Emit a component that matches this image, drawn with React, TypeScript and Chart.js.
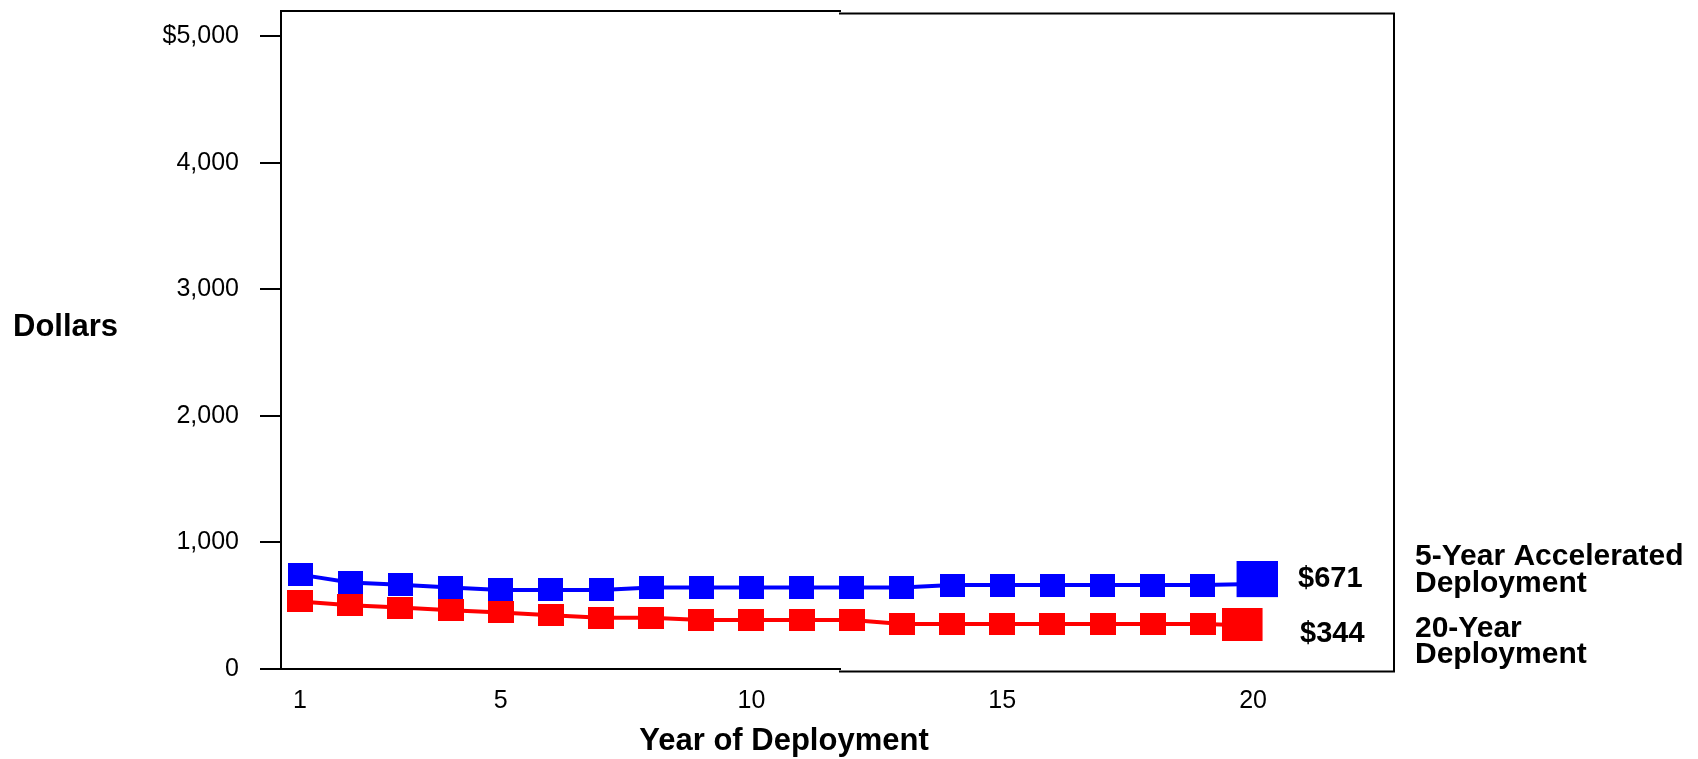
import React, { useEffect, useRef } from "react";
import { Chart, registerables } from "chart.js";

Chart.register(...registerables);

// ---- Data ----
const years = [1, 2, 3, 4, 5, 6, 7, 8, 9, 10, 11, 12, 13, 14, 15, 16, 17, 18, 19, 20];
const acceleratedCosts = [746, 684, 665, 644, 625, 625, 625, 644, 644, 644, 645, 645, 645, 663, 663, 663, 663, 663, 663, 671];
const twentyYearCosts = [534, 504, 486, 465, 447, 425, 405, 405, 387, 387, 387, 387, 355, 355, 355, 355, 355, 355, 355, 344];
const xTickValues = [1, 5, 10, 15, 20];
const yTickValues = [0, 1000, 2000, 3000, 4000, 5000];
const acceleratedLabel = ["5-Year Accelerated", "Deployment"];
const twentyYearLabel = ["20-Year", "Deployment"];
const xTitle = "Year of Deployment";
const yTitle = "Dollars";

const FONT = '"Liberation Sans", Arial, Helvetica, sans-serif';
const BLUE = "#0000ff";
const RED = "#ff0000";

function makeMarker(color: string, w: number, h: number, dx = 0, dy = 0): HTMLCanvasElement {
  const c = document.createElement("canvas");
  c.width = w + 2 * Math.abs(dx);
  c.height = h + 2 * Math.abs(dy);
  const g = c.getContext("2d")!;
  g.fillStyle = color;
  g.fillRect(Math.abs(dx) + dx, Math.abs(dy) + dy, w, h);
  return c;
}

export default function App() {
  const ref = useRef<HTMLCanvasElement | null>(null);

  useEffect(() => {
    document.body.style.margin = "0";
    document.body.style.overflow = "hidden";
    const canvas = ref.current;
    if (!canvas) return;

    const last = years.length - 1;
    const smallBlue = makeMarker(BLUE, 25, 23);
    const smallRed = makeMarker(RED, 26, 22);
    const bigBlue = makeMarker(BLUE, 41, 36, 4, -5);
    const bigRed = makeMarker(RED, 41, 33, -11, -1);

    const framePlugin = {
      id: "frameAndText",
      beforeDatasetsDraw(chart: any) {
        const { ctx, chartArea } = chart;
        const { left, right, top, bottom } = chartArea;
        const mid = Math.round((left + right) / 2) + 2;
        const step = 2.5;
        ctx.save();
        ctx.strokeStyle = "#000";
        ctx.lineWidth = 2;
        ctx.lineCap = "square";
        ctx.beginPath();
        // left border
        ctx.moveTo(left, top);
        ctx.lineTo(left, bottom);
        // top border (two segments with a small step)
        ctx.moveTo(left, top);
        ctx.lineTo(mid, top);
        ctx.moveTo(mid, top + step);
        ctx.lineTo(right, top + step);
        // right border
        ctx.lineTo(right, bottom + step);
        // bottom border
        ctx.lineTo(mid, bottom + step);
        ctx.moveTo(mid, bottom);
        ctx.lineTo(left, bottom);
        ctx.stroke();
        ctx.restore();
      },
      afterDraw(chart: any) {
        const { ctx } = chart;
        ctx.save();
        ctx.fillStyle = "#000";
        ctx.textBaseline = "alphabetic";
        ctx.textAlign = "left";
        ctx.font = `bold 31px ${FONT}`;
        ctx.fillText(yTitle, 13, 336);

        ctx.textAlign = "center";
        ctx.font = `bold 31px ${FONT}`;
        ctx.fillText(xTitle, 784, 750);

        ctx.textAlign = "left";
        ctx.font = `bold 29px ${FONT}`;
        ctx.fillText(`$${acceleratedCosts[last]}`, 1298, 587);
        ctx.fillText(`$${twentyYearCosts[last]}`, 1300, 642);

        ctx.font = `bold 30px ${FONT}`;
        ctx.fillText(acceleratedLabel[0], 1415, 565);
        ctx.fillText(acceleratedLabel[1], 1415, 592);
        ctx.fillText(twentyYearLabel[0], 1415, 637);
        ctx.fillText(twentyYearLabel[1], 1415, 663);
        ctx.restore();
      },
    };

    const chart = new Chart(canvas, {
      type: "line",
      data: {
        datasets: [
          {
            label: acceleratedLabel.join(" "),
            data: years.map((x, i) => ({ x, y: acceleratedCosts[i] })),
            borderColor: BLUE,
            backgroundColor: BLUE,
            borderWidth: 4,
            pointStyle: years.map((_, i) => (i === last ? bigBlue : smallBlue)) as any,
            pointRadius: 5,
            tension: 0,
            order: 2,
            clip: false as any,
          },
          {
            label: twentyYearLabel.join(" "),
            data: years.map((x, i) => ({ x, y: twentyYearCosts[i] })),
            borderColor: RED,
            backgroundColor: RED,
            borderWidth: 4,
            pointStyle: years.map((_, i) => (i === last ? bigRed : smallRed)) as any,
            pointRadius: 5,
            tension: 0,
            order: 1,
            clip: false as any,
          },
        ],
      },
      options: {
        animation: false,
        responsive: false,
        maintainAspectRatio: false,
        layout: { padding: { left: 0, right: 304, top: 11, bottom: 0 } },
        plugins: { legend: { display: false }, tooltip: { enabled: false } },
        scales: {
          x: {
            type: "linear",
            min: 0.62,
            max: 22.81,
            afterBuildTicks: (s: any) => {
              s.ticks = xTickValues.map((v) => ({ value: v }));
            },
            afterFit: (s: any) => {
              s.height = 90;
              s.paddingLeft = 0;
              s.paddingRight = 0;
            },
            grid: { display: false },
            border: { display: false },
            ticks: {
              color: "#000",
              font: { family: FONT, size: 25 },
              padding: 9,
              maxRotation: 0,
              autoSkip: false,
              callback: (v: any) => String(v),
            },
          },
          y: {
            type: "linear",
            min: 0,
            max: 5200,
            afterBuildTicks: (s: any) => {
              s.ticks = yTickValues.map((v) => ({ value: v }));
            },
            afterFit: (s: any) => {
              s.width = 281;
              s.paddingTop = 0;
              s.paddingBottom = 0;
            },
            grid: { drawOnChartArea: false, drawTicks: true, tickLength: 21, color: "#000", lineWidth: 2 },
            border: { display: false },
            ticks: {
              color: "#000",
              font: { family: FONT, size: 25 },
              padding: 21,
              callback: (v: any) => (Number(v) === 5000 ? "$5,000" : Number(v).toLocaleString("en-US")),
            },
          },
        },
      },
      plugins: [framePlugin],
    });

    return () => chart.destroy();
  }, []);

  return <canvas ref={ref} width={1698} height={759} style={{ display: "block" }} />;
}
